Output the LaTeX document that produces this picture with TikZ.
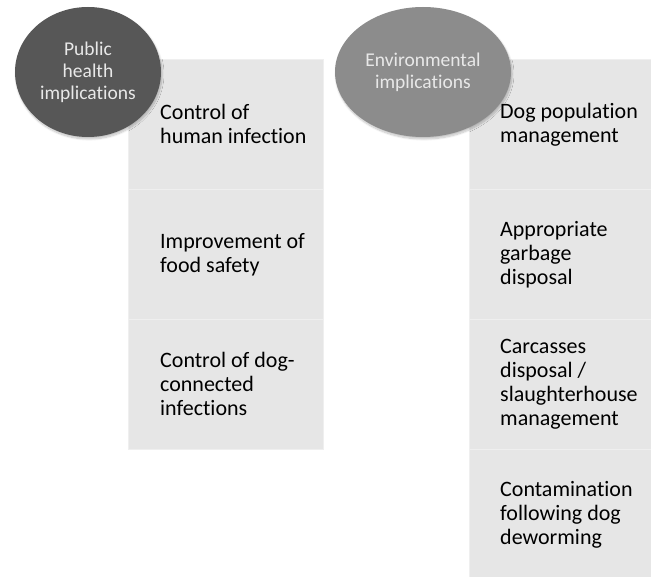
\documentclass[tikz,border=0pt]{standalone}
\usepackage{fontspec}
\setmainfont[Ligatures=NoCommon]{Carlito}
\usetikzlibrary{shadows.blur,shapes.geometric}
\definecolor{boxgray}{HTML}{E6E6E6}
\definecolor{sepgray}{HTML}{EFEFEF}
\definecolor{darkoval}{HTML}{575757}
\definecolor{midoval}{HTML}{8C8C8C}
\definecolor{ovaltext}{HTML}{E8E8E8}
\begin{document}
\begin{tikzpicture}[x=1pt,y=-1pt,
  segbox/.style={rectangle,fill=boxgray,draw=sepgray,line width=0.8pt,anchor=north west,inner sep=0pt,minimum height=130pt},
  segtext/.style={anchor=west,align=left,inner sep=0pt,text=black,font=\fontsize{22}{24}\selectfont},
  oval/.style={ellipse,inner sep=0pt,minimum height=130pt,align=center,text=ovaltext,font=\fontsize{19.5}{22}\selectfont,
    blur shadow={shadow blur steps=10,shadow xshift=1pt,shadow yshift=-2pt,shadow opacity=25}}
]
\useasboundingbox (0,0) rectangle (651,577);
% left column
\node[segbox,minimum width=195pt] (l1) at (128,59) {};
\node[segbox,minimum width=195pt] (l2) at (128,189) {};
\node[segbox,minimum width=195pt] (l3) at (128,319) {};
\node[segtext] (t1) at ([xshift=32pt]l1.west) {Control of\\human infection};
\node[segtext] (t2) at ([xshift=32pt]l2.west) {Improvement of\\food safety};
\node[segtext] (t3) at ([xshift=32pt]l3.west) {Control of dog-\\connected\\infections};
% right column
\node[segbox,minimum width=182pt] (r1) at (469,59) {};
\node[segbox,minimum width=182pt] (r2) at (469,189) {};
\node[segbox,minimum width=182pt] (r3) at (469,319) {};
\node[segbox,minimum width=182pt] (r4) at (469,449) {};
\node[segtext] (u1) at ([xshift=31pt]r1.west) {Dog population\\management};
\node[segtext] (u2) at ([xshift=31pt]r2.west) {Appropriate\\garbage\\disposal};
\node[segtext] (u3) at ([xshift=31pt]r3.west) {Carcasses\\disposal /\\slaughterhouse\\management};
\node[segtext] (u4) at ([xshift=31pt]r4.west) {Contamination\\following dog\\deworming};
% ovals
\node[oval,fill=darkoval,minimum width=146pt] (o1) at (88,72) {Public\\health\\implications};
\node[oval,fill=midoval,minimum width=176pt] (o2) at (423,72) {Environmental\\implications};
\end{tikzpicture}
\end{document}
